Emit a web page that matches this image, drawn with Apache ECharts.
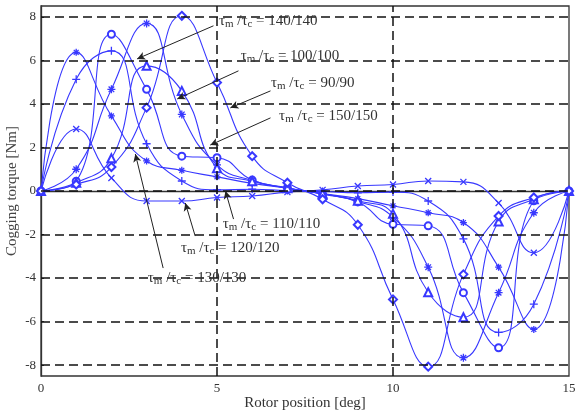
<!DOCTYPE html>
<html>
<head>
<meta charset="utf-8">
<script src="https://cdn.jsdelivr.net/npm/echarts@6/dist/echarts.min.js"></script>
<style>
  html, body { margin: 0; padding: 0; background: #fff; }
  #main { width: 577px; height: 414px; }
</style>
</head>
<body>
<div id="main"></div>
<script>
// rotor position [deg], one sample per degree
var position = [0, 1, 2, 3, 4, 5, 6, 7, 8, 9, 10, 11, 12, 13, 14, 15];

// cogging torque [Nm] per curve
var torqueCross    = [0, 2.85, 0.6, -0.46, -0.46, -0.3, -0.23, -0.05, 0.05, 0.23, 0.3, 0.46, 0.42, -0.55, -2.84, 0];
var torqueAster    = [0, 6.37, 3.45, 1.38, 0.95, 0.65, 0.35, 0.12, -0.12, -0.35, -0.68, -1.0, -1.45, -3.5, -6.36, 0];
var torquePlus     = [0, 5.13, 6.44, 2.17, 0.46, 0.05, 0.08, 0.02, -0.02, -0.08, -0.05, -0.46, -2.2, -6.5, -5.2, 0];
var torqueCircle   = [0, 0.45, 7.2, 4.67, 1.6, 1.53, 0.5, 0.15, -0.15, -0.5, -1.53, -1.6, -4.67, -7.2, -0.45, 0];
var torqueStar     = [0, 1.0, 4.67, 7.7, 3.52, 1.2, 0.48, 0.13, -0.13, -0.48, -1.2, -3.5, -7.66, -4.67, -1.0, 0];
var torqueTriangle = [0, 0.38, 1.5, 5.75, 4.6, 1.05, 0.45, 0.13, -0.13, -0.45, -1.05, -4.65, -5.8, -1.4, -0.38, 0];
var torqueDiamond  = [0, 0.3, 1.1, 3.83, 8.05, 4.98, 1.6, 0.38, -0.38, -1.55, -4.98, -8.07, -3.83, -1.15, -0.3, 0];

var xTicks = [0, 5, 10, 15];
var yTicks = [-8, -6, -4, -2, 0, 2, 4, 6, 8];

// annotation labels: ratio text, text anchor [x, y], arrow from [x, y] to [x, y]
var labelRatios = ['140/140', '100/100', '90/90', '150/150', '110/110', '120/120', '130/130'];
var labelAnchors = [[5.04, 7.82], [5.66, 6.2], [6.52, 4.97], [6.75, 3.45], [5.15, -1.52], [3.96, -2.6], [3.02, -4.0]];
var arrowFrom = [[4.9, 7.59], [5.61, 5.52], [6.52, 4.6], [6.52, 3.36], [5.47, -1.29], [4.38, -2.07], [3.47, -3.54]];
var arrowTo   = [[2.73, 6.07], [3.87, 4.23], [5.38, 3.82], [4.81, 2.11], [5.24, 0.0], [4.1, -0.55], [2.68, 1.7]];

var blue = '#3838ff';
var serif = '"Liberation Serif", "DejaVu Serif", serif';

var symPlus = 'path://M5 0L5 10M0 5L10 5';
var symCross = 'path://M0 0L10 10M10 0L0 10';
var symAster = 'path://M5 0L5 10M0 5L10 5M1.5 1.5L8.5 8.5M8.5 1.5L1.5 8.5';

function pairs(vals) {
  return position.map(function (x, i) { return [x, vals[i]]; });
}

function curve(name, vals, symbol, size) {
  var stroked = symbol.indexOf('path://') === 0;
  return {
    name: name,
    type: 'line',
    z: 3,
    smooth: 0.5,
    data: pairs(vals),
    symbol: symbol,
    symbolSize: size,
    showAllSymbol: true,
    lineStyle: { color: blue, width: 1.1 },
    itemStyle: stroked
      ? { color: 'none', borderColor: blue, borderWidth: 1.3 }
      : { color: blue, borderWidth: 1 }
  };
}

var chart = echarts.init(document.getElementById('main'));

var gridLines = yTicks.map(function (v) { return { yAxis: v }; })
  .concat(xTicks.filter(function (v) { return v > 0 && v < 15; })
    .map(function (v) { return { xAxis: v }; }));

var arrows = arrowFrom.map(function (p, i) {
  return [{ coord: p }, { coord: arrowTo[i] }];
});

var labels = labelRatios.map(function (r, i) {
  return {
    coord: labelAnchors[i],
    label: { formatter: '{t|τ}{s|m}{t| /τ}{s|c}{t| = ' + r + '}' }
  };
});

var option = {
  animation: false,
  backgroundColor: '#fff',
  grid: {
    left: 41, right: 8, top: 6, bottom: 38,
    outerBoundsMode: 'none', containLabel: false,
    show: true, borderColor: '#333', borderWidth: 1.3, backgroundColor: '#fff'
  },
  xAxis: {
    type: 'value', min: 0, max: 15, interval: 5,
    name: 'Rotor position [deg]', nameLocation: 'middle', nameGap: 20, nameMoveOverlap: false,
    nameTextStyle: { fontFamily: serif, fontSize: 15, color: '#333' },
    axisLine: { lineStyle: { color: '#333', width: 1.3 } },
    axisTick: { inside: true, length: 3, lineStyle: { color: '#333' } },
    axisLabel: { fontFamily: serif, fontSize: 13, color: '#333', margin: 6 },
    splitLine: { show: false }
  },
  yAxis: {
    type: 'value', min: -8.5, max: 8.5,
    name: 'Cogging torque [Nm]', nameLocation: 'middle', nameGap: 21, nameMoveOverlap: false,
    nameTextStyle: { fontFamily: serif, fontSize: 15, color: '#444' },
    axisLine: { lineStyle: { color: '#333', width: 1.3 } },
    axisTick: { inside: true, length: 3, customValues: yTicks, lineStyle: { color: '#333' } },
    axisLabel: { fontFamily: serif, fontSize: 13, color: '#333', margin: 5, customValues: yTicks },
    splitLine: { show: false }
  },
  series: [
    {
      name: 'grid', type: 'line', data: [], z: 1, silent: true,
      markLine: {
        silent: true, symbol: ['none', 'none'], label: { show: false },
        lineStyle: { color: '#111', width: 1.5, type: [9, 5] },
        data: gridLines
      }
    },
    curve('cross', torqueCross, symCross, 6),
    curve('asterisk', torqueAster, symAster, 7),
    curve('plus', torquePlus, symPlus, 8),
    curve('circle', torqueCircle, 'emptyCircle', 7),
    curve('star', torqueStar, symAster, 8),
    curve('triangle', torqueTriangle, 'emptyTriangle', 8),
    curve('diamond', torqueDiamond, 'emptyDiamond', 8),
    {
      name: 'notes', type: 'line', data: [], z: 5, silent: true,
      markLine: {
        silent: true, symbol: ['none', 'arrow'], symbolSize: [6, 8],
        label: { show: false },
        lineStyle: { color: '#222', width: 1, type: 'solid' },
        data: arrows
      },
      markPoint: {
        silent: true, symbol: 'circle', symbolSize: 1,
        itemStyle: { color: 'rgba(0,0,0,0)' },
        label: {
          show: true, position: 'right', distance: 0,
          rich: {
            t: { fontFamily: serif, fontSize: 15, color: '#333' },
            s: { fontFamily: serif, fontSize: 11, color: '#333', padding: [7, 0, 0, 0] }
          }
        },
        data: labels
      }
    }
  ]
};

chart.setOption(option);
window.onresize = chart.resize;
</script>
</body>
</html>
